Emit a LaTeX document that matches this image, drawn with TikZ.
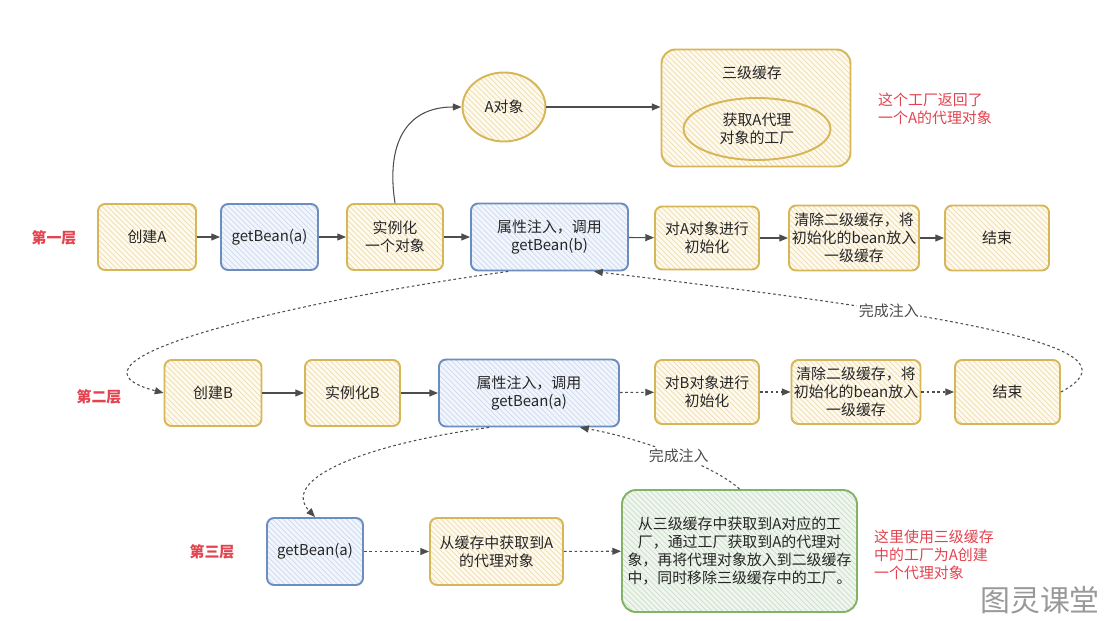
\documentclass[tikz,border=0pt]{standalone}
\usepackage{fontspec}
\setmainfont{Noto Sans CJK SC}
\usepackage{tikz}
\usetikzlibrary{patterns,arrows.meta,calc,shapes.geometric}
\usepackage{xcolor}
\definecolor{StepYellow}{HTML}{d6b656}
\definecolor{StepYellowFill}{HTML}{fffaf0}
\definecolor{StepYellowHatch}{HTML}{f0dcaa}
\definecolor{StepBlue}{HTML}{6c8ebf}
\definecolor{StepBlueFill}{HTML}{f2f6fc}
\definecolor{StepBlueHatch}{HTML}{cbdaf0}
\definecolor{StepGreen}{HTML}{82b366}
\definecolor{StepGreenFill}{HTML}{f0f6ef}
\definecolor{StepGreenHatch}{HTML}{c8dfc4}
\definecolor{NoteRed}{HTML}{e2434f}
\definecolor{FlowGray}{HTML}{4d4d4d}

\begin{document}
\begin{tikzpicture}[x=0.02cm,y=-0.02cm,
    every node/.style={font=\fontsize{8.5}{10.2}\selectfont,align=center,text=black!85},
    stepbox/.style={line width=1.1pt,rounded corners=4pt,pattern=north west lines,inner xsep=1pt},
    yellowbox/.style={stepbox,draw=StepYellow,preaction={fill=StepYellowFill},pattern color=StepYellowHatch},
    bluebox/.style={stepbox,draw=StepBlue,preaction={fill=StepBlueFill},pattern color=StepBlueHatch},
    greenbox/.style={stepbox,draw=StepGreen,preaction={fill=StepGreenFill},pattern color=StepGreenHatch},
    flow/.style={draw=FlowGray,line width=0.6pt,-{Triangle[length=5pt,width=4pt]}},
    dotflow/.style={flow,dash pattern=on 1.5pt off 1.5pt},
    donelabel/.style={fill=white,inner sep=1pt,text=black!70},
    rowlabel/.style={text=NoteRed,font=\fontsize{8.5}{10.2}\selectfont\bfseries},
    note/.style={text=NoteRed,align=left,anchor=west}]
    \useasboundingbox (0,0) rectangle (1105,621);

    \node[rowlabel] (rowOne) at (54,238) {第一层};
    \node[yellowbox,minimum width=1.96cm,minimum height=1.32cm] (createA) at (147,237) {创建A};
    \node[bluebox,minimum width=1.94cm,minimum height=1.32cm] (getA1) at (269.5,237) {getBean(a)};
    \node[yellowbox,minimum width=1.92cm,minimum height=1.32cm] (instA) at (395,237) {实例化\\一个对象};
    \node[bluebox,minimum width=3.14cm,minimum height=1.34cm] (injectA) at (549.5,237) {属性注入，调用\\getBean(b)};
    \node[yellowbox,minimum width=2.08cm,minimum height=1.26cm] (initA) at (707,238) {对A对象进行\\初始化};
    \node[yellowbox,minimum width=2.6cm,minimum height=1.3cm] (clearA) at (854,238) {清除二级缓存，将\\初始化的bean放入\\一级缓存};
    \node[yellowbox,minimum width=2.08cm,minimum height=1.3cm] (endA) at (997,238) {结束};

    \node[yellowbox,ellipse,minimum width=1.66cm,minimum height=1.38cm] (aObj) at (504,107) {A对象};
    \node[yellowbox,rounded corners=8pt,minimum width=3.78cm,minimum height=2.34cm] (cacheBox) at (756,108) {};
    \node (cacheTitle) at (752,73) {三级缓存};
    \node[yellowbox,ellipse,minimum width=2.94cm,minimum height=1.24cm] (factoryA) at (757,129) {获取A代理\\对象的工厂};
    \node[note] (noteFactory) at (872,109) {这个工厂返回了\\一个A的代理对象};

    \node[rowlabel] (rowTwo) at (99,397) {第二层};
    \node[yellowbox,minimum width=1.94cm,minimum height=1.32cm] (createB) at (213,393) {创建B};
    \node[yellowbox,minimum width=1.9cm,minimum height=1.32cm] (instB) at (352.5,393) {实例化B};
    \node[bluebox,minimum width=3.6cm,minimum height=1.34cm] (injectB) at (529,393) {属性注入，调用\\getBean(a)};
    \node[yellowbox,minimum width=2.08cm,minimum height=1.28cm] (initB) at (707,392) {对B对象进行\\初始化};
    \node[yellowbox,minimum width=2.58cm,minimum height=1.28cm] (clearB) at (856,392) {清除二级缓存，将\\初始化的bean放入\\一级缓存};
    \node[yellowbox,minimum width=2.1cm,minimum height=1.28cm] (endB) at (1007.5,392) {结束};

    \node[rowlabel] (rowThree) at (212,552) {第三层};
    \node[bluebox,minimum width=1.92cm,minimum height=1.34cm] (getA3) at (315,551.5) {getBean(a)};
    \node[yellowbox,minimum width=2.66cm,minimum height=1.34cm] (cacheA) at (496.5,551.5) {从缓存中获取到A\\的代理对象};
    \node[greenbox,rounded corners=8pt,minimum width=4.7cm,minimum height=2.44cm] (factory) at (739.5,551) {从三级缓存中获取到A对应的工\\厂，通过工厂获取到A的代理对\\象，再将代理对象放入到二级缓存\\中，同时移除三级缓存中的工厂。};
    \node[note] (noteProxy) at (868,555) {这里使用三级缓存\\中的工厂为A创建\\一个代理对象};
    \node[text=black!40,font=\fontsize{17}{17}\selectfont] (watermark) at (1040,600) {图灵课堂};

    \draw[flow] (createA) -- (getA1);
    \draw[flow] (getA1) -- (instA);
    \draw[flow] (instA) -- (injectA);
    \draw[flow] (injectA) -- (initA);
    \draw[flow] (initA) -- (clearA);
    \draw[flow] (clearA) -- (endA);
    \draw[flow] (instA.north) .. controls (386,145) and (405,107) .. (aObj.west);
    \draw[flow] (aObj.east) -- (aObj.east -| cacheBox.west);

    \draw[flow] (createB) -- (instB);
    \draw[flow] (instB) -- (injectB);
    \draw[dotflow] (injectB) -- (initB);
    \draw[dotflow] (initB) -- (clearB);
    \draw[dotflow] (clearB) -- (endB);

    \draw[dotflow] (getA3) -- (cacheA);
    \draw[dotflow] (cacheA) -- (factory);

    \coordinate (injectAOut) at ($(injectA.south west)!0.24!(injectA.south east)$);
    \coordinate (injectAIn) at ($(injectA.south west)!0.78!(injectA.south east)$);
    \coordinate (injectBOut) at ($(injectB.south west)!0.28!(injectB.south east)$);
    \coordinate (injectBIn) at ($(injectB.south west)!0.78!(injectB.south east)$);
    \draw[dotflow] (injectAOut) .. controls (300,300) and (40,360) .. (createB.west);
    \draw[dotflow] (endB.east) .. controls (1140,350) and (1000,320) .. node[donelabel,pos=0.7] (doneA) {完成注入} (injectAIn);
    \draw[dotflow] (injectBOut) .. controls (360,445) and (280,480) .. (getA3.north);
    \draw[dotflow] (factory.north) .. controls (720,470) and (650,440) .. node[donelabel,pos=0.5] (doneB) {完成注入} (injectBIn);
\end{tikzpicture}
\end{document}
